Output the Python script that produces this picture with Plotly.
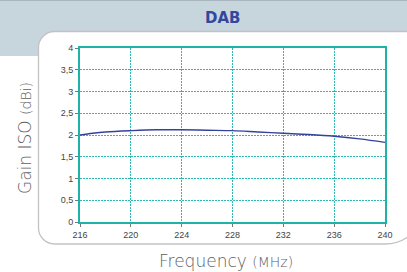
import plotly.graph_objects as go

# ---- data ----
freq_mhz = [216, 217, 218, 220, 222, 224, 226, 228, 230, 232, 234, 236, 238, 240]
gain_dbi = [2.00, 2.04, 2.07, 2.10, 2.12, 2.12, 2.11, 2.10, 2.07, 2.04, 2.01, 1.97, 1.91, 1.83]
x_ticks = [216, 220, 224, 228, 232, 236, 240]
y_ticks = [0, 0.5, 1, 1.5, 2, 2.5, 3, 3.5, 4]
y_tick_labels = ["0", "0,5", "1", "1,5", "2", "2,5", "3", "3,5", "4"]
title_text = "DAB"
x_title = "Frequency"
x_unit = "(MHz)"
y_title = "Gain ISO"
y_unit = "(dBi)"

W, H = 407, 272
ML, MR, MT, MB = 80, 22, 48, 50
PW, PH = W - ML - MR, H - MT - MB


def px(x):
    return (x - ML) / PW


def py(y):
    return (H - MB - y) / PH


def P(x, y):
    return f"{px(x):.5f},{py(y):.5f}"


TEAL = "#1fb3a8"
GRID = "#2bbab0"
TXT = "#616161"

fig = go.Figure()
fig.add_trace(go.Scatter(
    x=freq_mhz, y=gain_dbi, mode="lines",
    line=dict(color="#33439b", width=1.4, shape="spline", smoothing=1.0),
    hoverinfo="skip", showlegend=False,
))

# background band and white rounded panel
k = 0.5523
L, T, R, B = 38.5, 31.5, 425, 244
r1, r2 = 16, 40
panel = (
    f"M {P(L, T + r1)} "
    f"C {P(L, T + r1 * (1 - k))} {P(L + r1 * (1 - k), T)} {P(L + r1, T)} "
    f"L {P(R, T)} L {P(R, B - r2)} "
    f"C {P(R, B - r2 * (1 - k))} {P(R - r2 * (1 - k), B)} {P(R - r2, B)} "
    f"L {P(L + r1, B)} "
    f"C {P(L + r1 * (1 - k), B)} {P(L, B - r1 * (1 - k))} {P(L, B - r1)} Z"
)
shapes = [
    dict(type="rect", xref="paper", yref="paper", x0=px(-5), x1=px(W + 5), y0=py(56), y1=py(-5),
         fillcolor="#c7d5dd", line=dict(width=0), layer="below"),
    dict(type="line", xref="paper", yref="paper", x0=px(-5), x1=px(W + 5), y0=py(0.5), y1=py(0.5),
         line=dict(color="#a9b5bc", width=1), layer="below"),
    dict(type="path", xref="paper", yref="paper", path=panel,
         fillcolor="white", line=dict(color="#c2c2c2", width=1.3), layer="below"),
]

annotations = [
    dict(text=f"<b>{title_text}</b>", x=px(222.5), y=py(18), xref="paper", yref="paper",
         xanchor="center", yanchor="middle", showarrow=False,
         font=dict(family="DejaVu Sans", size=15, color="#34479e")),
    dict(text=f"{x_title} <span style='font-size:14px'>{x_unit}</span>", x=px(226), y=py(261),
         xref="paper", yref="paper", xanchor="center", yanchor="middle", showarrow=False,
         font=dict(family="DejaVu Sans", size=17, color=TXT, weight=300)),
    dict(text=f"{y_title} <span style='font-size:14px'>{y_unit}</span>", x=px(25), y=py(138),
         xref="paper", yref="paper", xanchor="center", yanchor="middle", showarrow=False,
         textangle=-90,
         font=dict(family="DejaVu Sans", size=17, color=TXT, weight=300)),
]

axis_common = dict(
    showline=True, linecolor=TEAL, linewidth=2, mirror=True,
    showgrid=True, gridcolor=GRID, gridwidth=1, griddash="2px,1px",
    zeroline=False, ticks="outside", ticklen=3, tickcolor="#777", tickwidth=1,
    tickfont=dict(family="Liberation Sans, Arial", size=9, color="#444"),
)

fig.update_layout(
    width=W, height=H,
    margin=dict(l=ML, r=MR, t=MT, b=MB, pad=0),
    paper_bgcolor="white", plot_bgcolor="rgba(0,0,0,0)",
    shapes=shapes, annotations=annotations,
    xaxis=dict(range=[216, 240], tickvals=x_ticks, ticktext=[str(v) for v in x_ticks], **axis_common),
    yaxis=dict(range=[0, 4], tickvals=y_ticks, ticktext=y_tick_labels, **axis_common),
    showlegend=False,
)

fig.write_html("out.html", config={"displayModeBar": False},
               post_script="document.body.style.margin='0';document.body.style.overflow='hidden';")
